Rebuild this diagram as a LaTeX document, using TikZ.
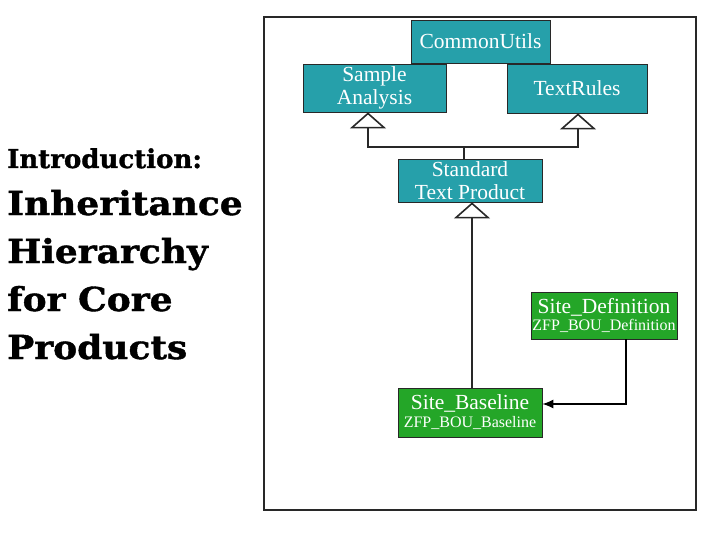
\documentclass[tikz,border=0pt]{standalone}
\usepackage{fontspec}
\setmainfont{Liberation Serif}
\newfontfamily\slabfont[FakeBold=1.2]{DejaVu Serif}
\usetikzlibrary{arrows.meta}
\definecolor{boxteal}{RGB}{38,160,170}
\definecolor{boxgreen}{RGB}{36,166,40}
\definecolor{linegray}{RGB}{40,40,40}
\tikzset{
  box/.style={draw=linegray, line width=0.8pt, text=white, inner sep=0pt, align=center},
  tealbox/.style={box, fill=boxteal, font=\fontsize{21.5}{24}\selectfont},
  greenbox/.style={box, fill=boxgreen},
  inh/.style={draw=linegray, line width=2pt, -{Triangle[open, length=16pt, width=36pt, line width=1.6pt]}},
  dep/.style={draw=black, line width=1.2pt, -{Latex[length=11pt, width=9pt]}},
  title/.style={anchor=base west, inner sep=0pt, font=\slabfont\bfseries\fontsize{33}{36}\selectfont}
}
\newcommand{\wide}[1]{\scalebox{1.09}[1]{#1}}
\begin{document}
\begin{tikzpicture}[x=1pt, y=-1pt]
\useasboundingbox (0,0) rectangle (720,540);
\fill[white] (0,0) rectangle (720,540);
\node[draw=linegray, line width=2pt, minimum width=432pt, minimum height=493pt, inner sep=0pt] (frame) at (480,263.5) {};
% boxes
\node[tealbox, minimum width=139pt, minimum height=43pt] (cu) at (480.5,41.5) {CommonUtils};
\node[tealbox, minimum width=143pt, minimum height=48pt] (sa) at (374.5,88) {Sample\\[-1pt]Analysis};
\node[tealbox, minimum width=140pt, minimum height=49pt] (tr) at (577,88.5) {TextRules};
\node[tealbox, minimum width=144pt, minimum height=43pt] (stp) at (470,180.5) {Standard\\[-1pt]Text Product};
\node[greenbox, minimum width=146pt, minimum height=47pt] (sd) at (604,315.5)
  {\fontsize{21.5}{23}\selectfont Site\_Definition\\[2pt]\fontsize{16}{17}\selectfont ZFP\_BOU\_Definition};
\node[greenbox, minimum width=144pt, minimum height=49pt] (sb) at (470,412.5)
  {\fontsize{21.5}{23}\selectfont Site\_Baseline\\[3pt]\fontsize{16}{17}\selectfont ZFP\_BOU\_Baseline};
% inheritance connectors
\coordinate (junc) at (464,147);
\draw[draw=linegray, line width=2pt] ([xshift=-6pt]stp.north) -- (junc);
\draw[inh] (junc) -| ([xshift=-6.5pt]sa.south);
\draw[inh] (junc) -| ([xshift=1pt]tr.south);
\draw[inh] ([xshift=2pt]sb.north) -- ([xshift=2pt]stp.south);
% dependency
\draw[dep] ([xshift=22pt]sd.south) |- (sb.east |- 0,404);
% title text
\node[anchor=base west, inner sep=0pt, font=\slabfont\bfseries\fontsize{26}{30}\selectfont] (intro) at (7,168) {Introduction:};
\node[title] (t1) at (7,215) {\wide{Inheritance}};
\node[title] (t2) at (7,263) {\wide{Hierarchy}};
\node[title] (t3) at (7,311) {\wide{for Core}};
\node[title] (t4) at (7,359) {\wide{Products}};
\end{tikzpicture}
\end{document}
